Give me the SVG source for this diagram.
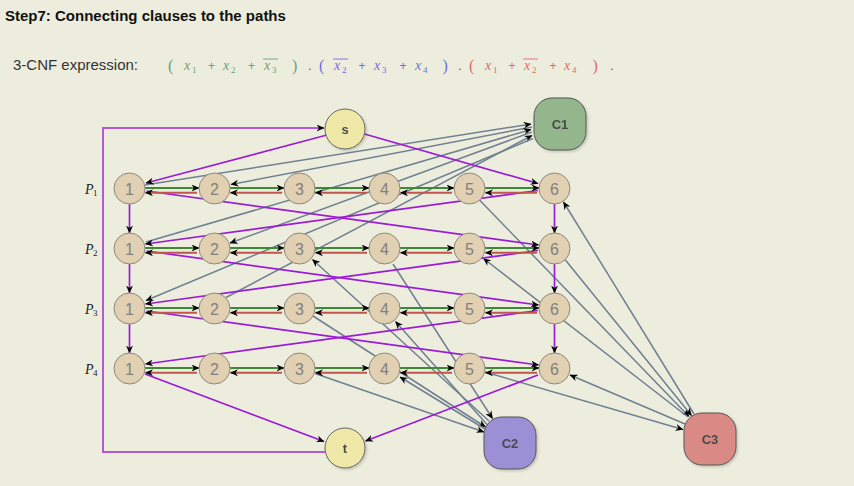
<svg xmlns="http://www.w3.org/2000/svg" width="854" height="486" viewBox="0 0 854 486">
<defs>
<style>
.bg{fill:#ededde}
.title{font-family:"Liberation Sans",Arial,sans-serif;font-weight:bold;font-size:15px;fill:#111}
.lbl{font-family:"Liberation Sans",Arial,sans-serif;font-size:15px;fill:#333}
.mv{font-family:"Liberation Serif","Times New Roman",serif;font-style:italic;font-size:14px}
.ms{font-family:"Liberation Serif","Times New Roman",serif;font-size:9px}
.mp{font-family:"Liberation Serif","Times New Roman",serif;font-size:16px}
.mo{font-family:"Liberation Sans",Arial,sans-serif;font-size:12px}
.dot{font-family:"Liberation Sans",Arial,sans-serif;font-size:13px;fill:#555}
.g1{fill:#6a9f78}.b1{fill:#6e6ee0}.r1{fill:#e06a6a}
.pl{font-family:"Liberation Serif","Times New Roman",serif;font-style:italic;font-size:14px;fill:#222}
.pls{font-family:"Liberation Serif","Times New Roman",serif;font-size:9px;fill:#222}
.n circle{fill:#e1d0b2;stroke:#8e877b;stroke-width:1}
.n text{font-family:"Liberation Sans",Arial,sans-serif;font-size:16px;fill:#808080;text-anchor:middle}
.st circle{fill:#efe8a6;stroke:#666;stroke-width:1}
.st text,.c text{font-family:"Liberation Sans",Arial,sans-serif;font-weight:bold;font-size:13px;fill:#4a4a4a;text-anchor:middle}
.c rect{stroke:#555;stroke-width:1}
.gr{stroke:#3c8a36;stroke-width:2;fill:none;marker-end:url(#a)}
.rd{stroke:#c0554e;stroke-width:2;fill:none;marker-end:url(#a)}
.pu{stroke:#9b1bd6;stroke-width:1.7;fill:none;marker-end:url(#a)}
.lp{stroke:#b55ad6;stroke-width:2;fill:none;marker-end:url(#a)}
.gy{stroke:#6f8091;stroke-width:1.5;fill:none;marker-end:url(#a)}
</style>
<marker id="a" viewBox="0 0 8 7" refX="7.5" refY="3.5" markerWidth="8" markerHeight="7" markerUnits="userSpaceOnUse" orient="auto"><path d="M0,0 L8,3.5 L0,7 L2.5,3.5 Z" fill="#000"/></marker>
<filter id="sh" x="-30%" y="-30%" width="160%" height="160%"><feDropShadow dx="1.5" dy="1.5" stdDeviation="1" flood-color="#000" flood-opacity="0.18"/></filter>
</defs>
<rect class="bg" x="0" y="0" width="854" height="486"/>
<text class="title" x="5" y="21">Step7: Connecting clauses to the paths</text>
<text class="lbl" x="13" y="69.5">3-CNF expression:</text>
<g id="expression">
<text class="mp g1" x="168" y="70.5">(</text>
<text class="mv g1" x="184" y="70">x</text><text class="ms g1" x="192" y="72.5">1</text>
<text class="mo g1" x="208" y="69.5">+</text>
<text class="mv g1" x="223" y="70">x</text><text class="ms g1" x="231" y="72.5">2</text>
<text class="mo g1" x="248" y="69.5">+</text>
<text class="mv g1" x="264" y="70">x</text><text class="ms g1" x="272" y="72.5">3</text>
<line x1="263" y1="59" x2="278" y2="59" stroke="#6a9f78" stroke-width="0.9"/>
<text class="mp g1" x="292" y="70.5">)</text>
<text class="dot" x="308" y="70">.</text>
<text class="mp b1" x="319" y="70.5">(</text>
<text class="mv b1" x="334" y="70">x</text><text class="ms b1" x="342" y="72.5">2</text>
<line x1="333" y1="59" x2="348" y2="59" stroke="#6e6ee0" stroke-width="0.9"/>
<text class="mo b1" x="358.5" y="69.5">+</text>
<text class="mv b1" x="374" y="70">x</text><text class="ms b1" x="382" y="72.5">3</text>
<text class="mo b1" x="399.5" y="69.5">+</text>
<text class="mv b1" x="415" y="70">x</text><text class="ms b1" x="423" y="72.5">4</text>
<text class="mp b1" x="442.5" y="70.5">)</text>
<text class="dot" x="458" y="70">.</text>
<text class="mp r1" x="469" y="70.5">(</text>
<text class="mv r1" x="485" y="70">x</text><text class="ms r1" x="493" y="72.5">1</text>
<text class="mo r1" x="508.5" y="69.5">+</text>
<text class="mv r1" x="524" y="70">x</text><text class="ms r1" x="532" y="72.5">2</text>
<line x1="523" y1="59" x2="538" y2="59" stroke="#e06a6a" stroke-width="0.9"/>
<text class="mo r1" x="549.5" y="69.5">+</text>
<text class="mv r1" x="564" y="70">x</text><text class="ms r1" x="572" y="72.5">4</text>
<text class="mp r1" x="592.5" y="70.5">)</text>
<text class="dot" x="610" y="70">.</text>
</g>
<g id="row-labels">
<text class="pl" x="85" y="193.5">P</text><text class="pls" x="93" y="195.5">1</text>
<text class="pl" x="85" y="253.5">P</text><text class="pls" x="93" y="255.5">2</text>
<text class="pl" x="85" y="313.5">P</text><text class="pls" x="93" y="315.5">3</text>
<text class="pl" x="85" y="373.5">P</text><text class="pls" x="93" y="375.5">4</text>
</g>
<g id="connectors">
<path class="lp" d="M325,452 L103,452 L103,128 L324,128"/>
<path class="gy" d="M145,185 L531,124"/>
<path class="gy" d="M532,127 L231,184.5"/>
<path class="gy" d="M146,242 L531,129.5"/>
<path class="gy" d="M532,132 L230,243"/>
<path class="gy" d="M226,297.5 L532,135.5"/>
<path class="gy" d="M533,138.5 L146,300.5"/>
<path class="gy" d="M393,264 L492.5,418.5"/>
<path class="gy" d="M489,421 L312.5,259.5"/>
<path class="gy" d="M313,316 L485.5,427"/>
<path class="gy" d="M487,424.5 L395.5,321.5"/>
<path class="gy" d="M315,373.5 L484,432"/>
<path class="gy" d="M485,429 L400,377"/>
<path class="gy" d="M479,199.5 L689,416.5"/>
<path class="gy" d="M694,414 L563.5,202"/>
<path class="gy" d="M565,259.5 L691.5,415.5"/>
<path class="gy" d="M688,417 L483.5,258.5"/>
<path class="gy" d="M485,372 L683,429.5"/>
<path class="gy" d="M685,424 L570,375"/>
<path class="pu" d="M327,135 L146,183"/>
<path class="pu" d="M364.5,134 L538,183.5"/>
<path class="pu" d="M129.5,204 L129.5,233"/>
<path class="pu" d="M554.5,204 L554.5,233"/>
<path class="pu" d="M146.5,191 L538.5,245"/>
<path class="pu" d="M538,190.5 L145.5,244"/>
<path class="pu" d="M129.5,264 L129.5,293"/>
<path class="pu" d="M554.5,264 L554.5,293"/>
<path class="pu" d="M146.5,251 L538.5,305"/>
<path class="pu" d="M538,250.5 L145.5,304"/>
<path class="pu" d="M129.5,324 L129.5,353"/>
<path class="pu" d="M554.5,324 L554.5,353"/>
<path class="pu" d="M146.5,311 L538.5,365"/>
<path class="pu" d="M538,310.5 L145.5,364"/>
<path class="pu" d="M145,374 L324,441.5"/>
<path class="pu" d="M538,375 L365.5,441"/>
<path class="gr" d="M145,188 L199,188"/><path class="gr" d="M230,188 L284,188"/><path class="gr" d="M315,188 L369,188"/><path class="gr" d="M400,188 L454,188"/><path class="gr" d="M485,188 L539,188"/>
<path class="rd" d="M197,192.8 L145.5,192.8"/><path class="rd" d="M282,192.8 L230.5,192.8"/><path class="rd" d="M367,192.8 L315.5,192.8"/><path class="rd" d="M452,192.8 L400.5,192.8"/><path class="rd" d="M537,192.8 L485.5,192.8"/>
<path class="gr" d="M145,248 L199,248"/><path class="gr" d="M230,248 L284,248"/><path class="gr" d="M315,248 L369,248"/><path class="gr" d="M400,248 L454,248"/><path class="gr" d="M485,248 L539,248"/>
<path class="rd" d="M197,252.8 L145.5,252.8"/><path class="rd" d="M282,252.8 L230.5,252.8"/><path class="rd" d="M367,252.8 L315.5,252.8"/><path class="rd" d="M452,252.8 L400.5,252.8"/><path class="rd" d="M537,252.8 L485.5,252.8"/>
<path class="gr" d="M145,308 L199,308"/><path class="gr" d="M230,308 L284,308"/><path class="gr" d="M315,308 L369,308"/><path class="gr" d="M400,308 L454,308"/><path class="gr" d="M485,308 L539,308"/>
<path class="rd" d="M197,312.8 L145.5,312.8"/><path class="rd" d="M282,312.8 L230.5,312.8"/><path class="rd" d="M367,312.8 L315.5,312.8"/><path class="rd" d="M452,312.8 L400.5,312.8"/><path class="rd" d="M537,312.8 L485.5,312.8"/>
<path class="gr" d="M145,368 L199,368"/><path class="gr" d="M230,368 L284,368"/><path class="gr" d="M315,368 L369,368"/><path class="gr" d="M400,368 L454,368"/><path class="gr" d="M485,368 L539,368"/>
<path class="rd" d="M197,372.8 L145.5,372.8"/><path class="rd" d="M282,372.8 L230.5,372.8"/><path class="rd" d="M367,372.8 L315.5,372.8"/><path class="rd" d="M452,372.8 L400.5,372.8"/><path class="rd" d="M537,372.8 L485.5,372.8"/>
</g>
<g id="node-s" class="st" filter="url(#sh)"><circle cx="345" cy="129" r="20"/><text x="345" y="133.5">s</text></g>
<g id="node-t" class="st" filter="url(#sh)"><circle cx="345" cy="448" r="20"/><text x="345" y="452.5">t</text></g>
<g id="node-C1" class="c" filter="url(#sh)"><rect x="534" y="98" width="52" height="52" rx="18" fill="#93b68c"/><text x="560" y="128.5">C1</text></g>
<g id="node-C2" class="c" filter="url(#sh)"><rect x="484" y="417" width="52" height="52" rx="18" fill="#9b8fd6"/><text x="510" y="447.5">C2</text></g>
<g id="node-C3" class="c" filter="url(#sh)"><rect x="684" y="413" width="52" height="52" rx="18" fill="#d98a84"/><text x="710" y="443.5">C3</text></g>
<g id="node-P1-1" class="n"><circle cx="129.5" cy="188.5" r="15.5"/><text x="129.5" y="194.5">1</text></g>
<g id="node-P1-2" class="n"><circle cx="214.5" cy="188.5" r="15.5"/><text x="214.5" y="194.5">2</text></g>
<g id="node-P1-3" class="n"><circle cx="299.5" cy="188.5" r="15.5"/><text x="299.5" y="194.5">3</text></g>
<g id="node-P1-4" class="n"><circle cx="384.5" cy="188.5" r="15.5"/><text x="384.5" y="194.5">4</text></g>
<g id="node-P1-5" class="n"><circle cx="469.5" cy="188.5" r="15.5"/><text x="469.5" y="194.5">5</text></g>
<g id="node-P1-6" class="n"><circle cx="554.5" cy="188.5" r="15.5"/><text x="554.5" y="194.5">6</text></g>
<g id="node-P2-1" class="n"><circle cx="129.5" cy="248.5" r="15.5"/><text x="129.5" y="254.5">1</text></g>
<g id="node-P2-2" class="n"><circle cx="214.5" cy="248.5" r="15.5"/><text x="214.5" y="254.5">2</text></g>
<g id="node-P2-3" class="n"><circle cx="299.5" cy="248.5" r="15.5"/><text x="299.5" y="254.5">3</text></g>
<g id="node-P2-4" class="n"><circle cx="384.5" cy="248.5" r="15.5"/><text x="384.5" y="254.5">4</text></g>
<g id="node-P2-5" class="n"><circle cx="469.5" cy="248.5" r="15.5"/><text x="469.5" y="254.5">5</text></g>
<g id="node-P2-6" class="n"><circle cx="554.5" cy="248.5" r="15.5"/><text x="554.5" y="254.5">6</text></g>
<g id="node-P3-1" class="n"><circle cx="129.5" cy="308.5" r="15.5"/><text x="129.5" y="314.5">1</text></g>
<g id="node-P3-2" class="n"><circle cx="214.5" cy="308.5" r="15.5"/><text x="214.5" y="314.5">2</text></g>
<g id="node-P3-3" class="n"><circle cx="299.5" cy="308.5" r="15.5"/><text x="299.5" y="314.5">3</text></g>
<g id="node-P3-4" class="n"><circle cx="384.5" cy="308.5" r="15.5"/><text x="384.5" y="314.5">4</text></g>
<g id="node-P3-5" class="n"><circle cx="469.5" cy="308.5" r="15.5"/><text x="469.5" y="314.5">5</text></g>
<g id="node-P3-6" class="n"><circle cx="554.5" cy="308.5" r="15.5"/><text x="554.5" y="314.5">6</text></g>
<g id="node-P4-1" class="n"><circle cx="129.5" cy="368.5" r="15.5"/><text x="129.5" y="374.5">1</text></g>
<g id="node-P4-2" class="n"><circle cx="214.5" cy="368.5" r="15.5"/><text x="214.5" y="374.5">2</text></g>
<g id="node-P4-3" class="n"><circle cx="299.5" cy="368.5" r="15.5"/><text x="299.5" y="374.5">3</text></g>
<g id="node-P4-4" class="n"><circle cx="384.5" cy="368.5" r="15.5"/><text x="384.5" y="374.5">4</text></g>
<g id="node-P4-5" class="n"><circle cx="469.5" cy="368.5" r="15.5"/><text x="469.5" y="374.5">5</text></g>
<g id="node-P4-6" class="n"><circle cx="554.5" cy="368.5" r="15.5"/><text x="554.5" y="374.5">6</text></g>
</svg>
